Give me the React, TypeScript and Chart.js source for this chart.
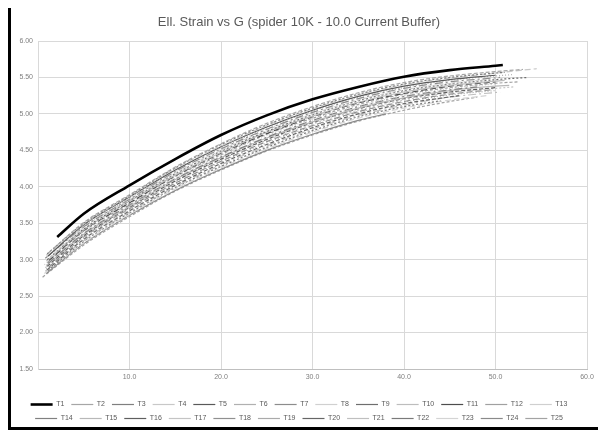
import React, { useEffect, useRef } from "react";
import { Chart, registerables } from "chart.js";

Chart.register(...registerables);

const TITLE = "Ell. Strain vs G (spider 10K - 10.0 Current Buffer)";

// X axis ticks (the origin label is left blank)
const X_TICKS = [0, 10, 20, 30, 40, 50, 60];
// Y axis ticks
const Y_TICKS = [1.5, 2, 2.5, 3, 3.5, 4, 4.5, 5, 5.5, 6];

const SERIES_NAMES = [
  "T1", "T2", "T3", "T4", "T5", "T6", "T7", "T8", "T9", "T10", "T11", "T12", "T13",
  "T14", "T15", "T16", "T17", "T18", "T19", "T20", "T21", "T22", "T23", "T24", "T25",
];

// [x, y] readings for each test curve
const s01 = [[2.1, 3.31], [5, 3.63], [10, 4.02], [15, 4.38], [20, 4.71], [25, 4.98], [30, 5.2], [35, 5.37], [40, 5.51], [45, 5.6], [50, 5.66], [50.8, 5.67]];
const s02 = [[1.2, 3.1], [5, 3.51], [10, 3.89], [15, 4.27], [20, 4.59], [25, 4.87], [30, 5.1], [35, 5.29], [40, 5.43], [45, 5.52], [50, 5.58], [53, 5.61]];
const s03 = [[1.0, 3.08], [5, 3.5], [10, 3.88], [15, 4.26], [20, 4.58], [25, 4.85], [30, 5.08], [35, 5.27], [40, 5.41], [45, 5.5], [50, 5.56], [51, 5.57]];
const s04 = [[0.9, 3.06], [5, 3.49], [10, 3.87], [15, 4.25], [20, 4.56], [25, 4.84], [30, 5.07], [35, 5.26], [40, 5.4], [45, 5.49], [50, 5.56], [54.5, 5.62]];
const s05 = [[1.1, 3.05], [5, 3.48], [10, 3.86], [15, 4.23], [20, 4.55], [25, 4.82], [30, 5.05], [35, 5.24], [40, 5.38], [45, 5.47], [50, 5.53]];
const s06 = [[1.0, 3.04], [5, 3.46], [10, 3.84], [15, 4.22], [20, 4.53], [25, 4.81], [30, 5.04], [35, 5.23], [40, 5.36], [45, 5.46], [50, 5.52], [52, 5.54]];
const s07 = [[0.8, 3.02], [5, 3.45], [10, 3.83], [15, 4.21], [20, 4.52], [25, 4.79], [30, 5.02], [35, 5.21], [40, 5.35], [45, 5.44], [50.5, 5.5]];
const s08 = [[1.3, 3.03], [5, 3.44], [10, 3.82], [15, 4.19], [20, 4.5], [25, 4.78], [30, 5.0], [35, 5.19], [40, 5.33], [45, 5.42], [49, 5.47]];
const s09 = [[1.0, 3.0], [5, 3.42], [10, 3.81], [15, 4.18], [20, 4.49], [25, 4.76], [30, 4.99], [35, 5.18], [40, 5.32], [45, 5.41], [50, 5.47], [53.5, 5.5]];
const s10 = [[0.9, 2.98], [5, 3.41], [10, 3.8], [15, 4.16], [20, 4.47], [25, 4.75], [30, 4.97], [35, 5.16], [40, 5.3], [45, 5.39], [51, 5.46]];
const s11 = [[1.2, 2.99], [5, 3.4], [10, 3.78], [15, 4.15], [20, 4.46], [25, 4.73], [30, 4.96], [35, 5.15], [40, 5.28], [45, 5.38], [50, 5.44]];
const s12 = [[1.0, 2.96], [5, 3.39], [10, 3.77], [15, 4.14], [20, 4.44], [25, 4.72], [30, 4.94], [35, 5.13], [40, 5.27], [45, 5.36], [50, 5.42], [52.5, 5.44]];
const s13 = [[0.7, 2.93], [5, 3.37], [10, 3.76], [15, 4.12], [20, 4.43], [25, 4.7], [30, 4.93], [35, 5.11], [40, 5.25], [45, 5.35], [50, 5.41]];
const s14 = [[1.1, 2.95], [5, 3.36], [10, 3.75], [15, 4.11], [20, 4.41], [25, 4.68], [30, 4.91], [35, 5.1], [40, 5.24], [45, 5.33], [48, 5.37]];
const s15 = [[0.9, 2.92], [5, 3.35], [10, 3.73], [15, 4.1], [20, 4.4], [25, 4.67], [30, 4.89], [35, 5.08], [40, 5.22], [45, 5.32], [50, 5.38], [51.5, 5.39]];
const s16 = [[1.0, 2.91], [5, 3.33], [10, 3.72], [15, 4.08], [20, 4.38], [25, 4.65], [30, 4.88], [35, 5.07], [40, 5.21], [45, 5.3], [50, 5.36]];
const s17 = [[0.8, 2.89], [5, 3.32], [10, 3.71], [15, 4.07], [20, 4.37], [25, 4.64], [30, 4.86], [35, 5.05], [40, 5.19], [45, 5.29], [50, 5.35], [52, 5.37]];
const s18 = [[1.2, 2.9], [5, 3.31], [10, 3.7], [15, 4.05], [20, 4.35], [25, 4.62], [30, 4.84], [35, 5.03], [40, 5.17], [45, 5.27], [49.5, 5.33]];
const s19 = [[0.9, 2.87], [5, 3.29], [10, 3.68], [15, 4.04], [20, 4.34], [25, 4.6], [30, 4.83], [35, 5.02], [40, 5.16], [45, 5.26], [50, 5.32]];
const s20 = [[1.0, 2.86], [5, 3.28], [10, 3.67], [15, 4.02], [20, 4.32], [25, 4.58], [30, 4.81], [35, 5.0], [40, 5.14], [46, 5.25]];
const s21 = [[0.8, 2.84], [5, 3.26], [10, 3.65], [15, 4.0], [20, 4.3], [25, 4.56], [30, 4.79], [35, 4.98], [40, 5.12], [45, 5.23], [50.5, 5.3]];
const s22 = [[1.1, 2.85], [5, 3.25], [10, 3.64], [15, 3.99], [20, 4.28], [25, 4.54], [30, 4.77], [35, 4.96], [40, 5.1], [44, 5.18]];
const s23 = [[0.7, 2.81], [5, 3.23], [10, 3.62], [15, 3.97], [20, 4.26], [25, 4.52], [30, 4.75], [35, 4.94], [40, 5.08], [45, 5.19], [49, 5.25]];
const s24 = [[0.9, 2.81], [5, 3.22], [10, 3.61], [15, 3.95], [20, 4.24], [25, 4.5], [30, 4.72], [35, 4.91], [38, 5.0]];
const s25 = [[0.5, 2.76], [5, 3.2], [10, 3.59], [15, 3.94], [20, 4.23], [25, 4.49], [30, 4.71], [35, 4.9], [40, 5.05], [45, 5.17], [48, 5.23]];

const SERIES_DATA = [
  s01, s02, s03, s04, s05, s06, s07, s08, s09, s10, s11, s12, s13,
  s14, s15, s16, s17, s18, s19, s20, s21, s22, s23, s24, s25,
];

// Line styles: the first curve is the heavy black reference, the rest are greys
const LINE_COLORS = [
  "#000000", "#a6a6a6", "#7f7f7f", "#c8c8c8", "#595959", "#b0b0b0", "#8c8c8c", "#d0d0d0",
  "#6e6e6e", "#bdbdbd", "#4d4d4d", "#a0a0a0", "#cfcfcf", "#808080", "#b8b8b8", "#5e5e5e",
  "#c4c4c4", "#909090", "#aaaaaa", "#666666", "#bfbfbf", "#7a7a7a", "#d4d4d4", "#8a8a8a", "#a3a3a3",
];
const LINE_DASHES: number[][] = [
  [], [4, 2], [2, 2], [6, 3], [], [1, 2], [8, 3, 2, 3], [4, 2],
  [2, 2], [], [6, 3], [3, 2], [1, 2], [8, 3, 2, 3], [], [4, 2],
  [2, 2], [6, 3], [1, 2], [4, 2], [8, 3, 2, 3], [2, 2], [6, 3], [], [3, 2],
];
const LINE_WIDTHS = [
  2.6, 1.2, 1.2, 1.2, 1.2, 1.2, 1.2, 1.2, 1.2, 1.2, 1.2, 1.2, 1.2,
  1.2, 1.2, 1.2, 1.2, 1.2, 1.2, 1.2, 1.2, 1.2, 1.2, 1.2, 1.2,
];

const FONT = "'Liberation Sans', Arial, sans-serif";

export default function App() {
  const canvasRef = useRef<HTMLCanvasElement | null>(null);

  useEffect(() => {
    if (!canvasRef.current) return;
    const datasets = SERIES_DATA.map((pts, i) => ({
      label: SERIES_NAMES[i],
      data: pts.map(([x, y]) => ({ x, y })),
      borderColor: LINE_COLORS[i],
      backgroundColor: LINE_COLORS[i],
      borderWidth: LINE_WIDTHS[i],
      borderDash: LINE_DASHES[i],
      pointRadius: 0,
      cubicInterpolationMode: "monotone" as const,
      fill: false,
    }));

    const chart = new Chart(canvasRef.current, {
      type: "line",
      data: { datasets },
      options: {
        animation: false,
        responsive: false,
        layout: { padding: { top: 0, left: 0, right: 11, bottom: -5 } },
        plugins: {
          title: {
            display: true,
            text: TITLE,
            color: "#595959",
            font: { family: FONT, size: 13, weight: "normal" },
            padding: { top: 7, bottom: 10.4 },
          },
          legend: {
            position: "bottom",
            labels: {
              usePointStyle: true,
              pointStyle: "line",
              pointStyleWidth: 22,
              padding: 7,
              color: "#595959",
              font: { family: FONT, size: 7 },
            },
          },
          tooltip: { enabled: false },
        },
        scales: {
          x: {
            type: "linear",
            min: X_TICKS[0],
            max: X_TICKS[X_TICKS.length - 1],
            afterBuildTicks: (s: any) => {
              s.ticks = X_TICKS.map((v) => ({ value: v }));
            },
            afterFit: (s: any) => {
              s.height = 25;
            },
            ticks: {
              color: "#7f7f7f",
              padding: 4,
              maxRotation: 0,
              font: { family: FONT, size: 7 },
              callback: (v: any) => (Number(v) === 0 ? "" : Number(v).toFixed(1)),
            },
            grid: { color: "#d9d9d9", drawTicks: false },
            border: { color: "#bfbfbf" },
          },
          y: {
            type: "linear",
            min: Y_TICKS[0],
            max: Y_TICKS[Y_TICKS.length - 1],
            afterBuildTicks: (s: any) => {
              s.ticks = Y_TICKS.map((v) => ({ value: v }));
            },
            afterFit: (s: any) => {
              s.width = 27;
            },
            ticks: {
              color: "#7f7f7f",
              padding: 5,
              font: { family: FONT, size: 7 },
              callback: (v: any) => Number(v).toFixed(2),
            },
            grid: { color: "#d9d9d9", drawTicks: false },
            border: { color: "#d9d9d9" },
          },
        },
      },
    });
    return () => chart.destroy();
  }, []);

  return (
    <div
      style={{
        position: "fixed",
        left: 8,
        top: 8,
        width: 587,
        height: 419,
        borderLeft: "3px solid #000",
        borderBottom: "3px solid #000",
        background: "#fff",
      }}
    >
      <canvas ref={canvasRef} width={587} height={419} style={{ display: "block" }} />
    </div>
  );
}
